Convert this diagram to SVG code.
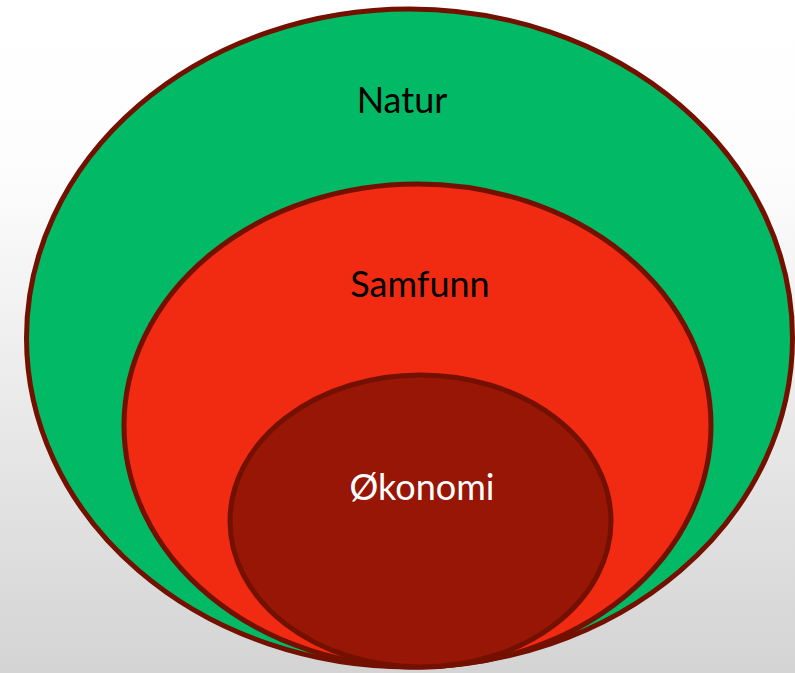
<svg xmlns="http://www.w3.org/2000/svg" width="795" height="673" viewBox="0 0 795 673">
  <defs>
    <linearGradient id="bg" x1="0" y1="0" x2="0" y2="1">
      <stop offset="0" stop-color="#ffffff"/>
      <stop offset="0.25" stop-color="#fdfdfd"/>
      <stop offset="1" stop-color="#d4d4d4"/>
    </linearGradient>
  </defs>
  <style>
    .ring { stroke: #731000; stroke-width: 5; }
    .lbl { font-family: "Futura", "Century Gothic", "Lato", "Liberation Sans", sans-serif; font-size: 36px; text-anchor: middle; }
  </style>
  <rect x="0" y="0" width="795" height="673" fill="url(#bg)"/>
  <g id="natur">
    <ellipse class="ring" cx="409.5" cy="338" rx="383" ry="329" fill="#02b966"/>
    <text class="lbl" x="402" y="113" fill="#000000">Natur</text>
  </g>
  <g id="samfunn">
    <ellipse class="ring" cx="417.5" cy="425.5" rx="293.5" ry="241.5" fill="#f12b12"/>
    <text class="lbl" x="420" y="297" fill="#000000">Samfunn</text>
  </g>
  <g id="okonomi">
    <ellipse class="ring" cx="420.5" cy="521" rx="190.5" ry="146" fill="#981605"/>
    <text class="lbl" x="422" y="500" fill="#ffffff">Økonomi</text>
  </g>
  <g id="connectors"/>
</svg>
